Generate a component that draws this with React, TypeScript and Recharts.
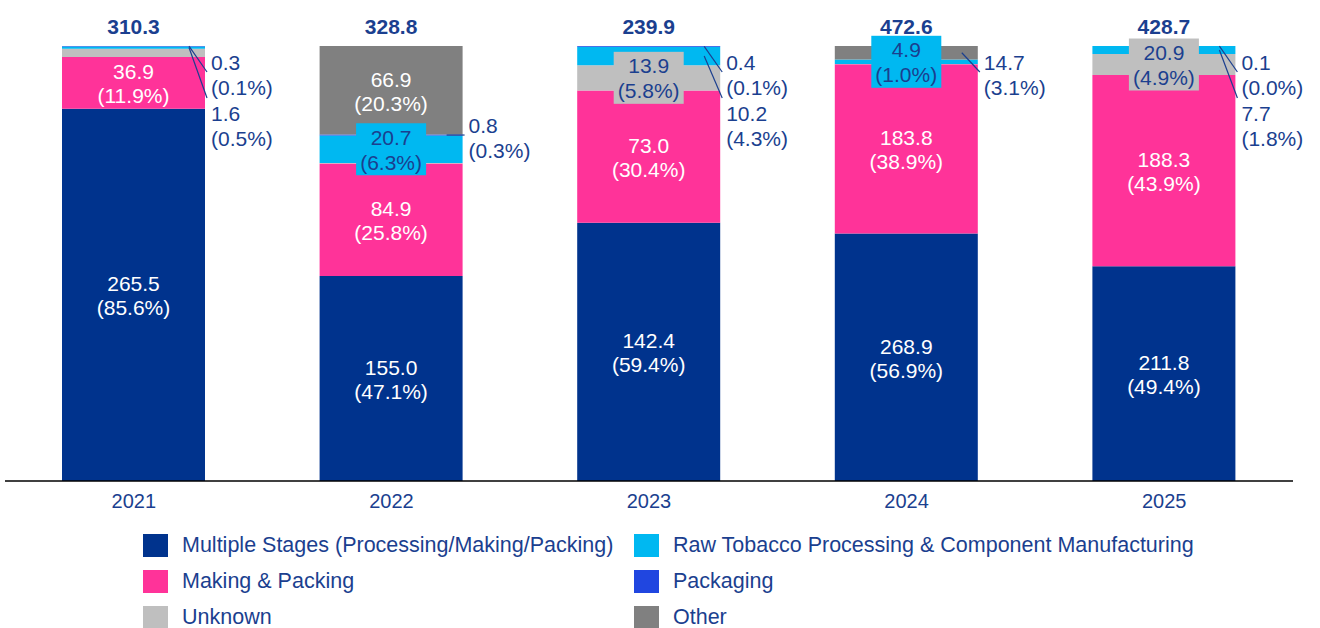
import React from 'react';
import { BarChart, Bar, XAxis, YAxis, Legend, LabelList } from 'recharts';

// categories and totals
const years = ['2021', '2022', '2023', '2024', '2025'];
const totals = [310.3, 328.8, 239.9, 472.6, 428.7];

// series values and their shares (%) as printed
const multipleStages = [265.5, 155.0, 142.4, 268.9, 211.8];
const multipleStagesPct = [85.6, 47.1, 59.4, 56.9, 49.4];
const makingPacking = [36.9, 84.9, 73.0, 183.8, 188.3];
const makingPackingPct = [11.9, 25.8, 30.4, 38.9, 43.9];
const unknown = [6.0, 0.5, 13.9, 0.3, 20.9];
const unknownPct = [1.9, 0.2, 5.8, 0.1, 4.9];
const rawTobacco = [1.6, 20.7, 10.2, 4.9, 7.7];
const rawTobaccoPct = [0.5, 6.3, 4.3, 1.0, 1.8];
const packaging = [0.3, 0.8, 0.4, 0, 0.1];
const packagingPct = [0.1, 0.3, 0.1, 0, 0.0];
const other = [0, 66.9, 0, 14.7, 0];
const otherPct = [0, 20.3, 0, 3.1, 0];

const NAVY = '#1B3F8F';
const FONT = '"Liberation Sans", Arial, sans-serif';
const FS = 21;
const PLOT_TOP = 46;
const BOX_W = 70;
const BOX_H = 52;

type Mode = 'in' | 'box' | 'side' | '-';

// bottom to top stacking order
const SERIES = [
  { key: 'ms', name: 'Multiple Stages (Processing/Making/Packing)', color: '#00338D', values: multipleStages, pct: multipleStagesPct, modes: ['in', 'in', 'in', 'in', 'in'] as Mode[] },
  { key: 'mp', name: 'Making & Packing', color: '#FF3399', values: makingPacking, pct: makingPackingPct, modes: ['in', 'in', 'in', 'in', 'in'] as Mode[] },
  { key: 'unk', name: 'Unknown', color: '#BFBFBF', values: unknown, pct: unknownPct, modes: ['-', '-', 'box', '-', 'box'] as Mode[] },
  { key: 'raw', name: 'Raw Tobacco Processing & Component Manufacturing', color: '#00B8F1', values: rawTobacco, pct: rawTobaccoPct, modes: ['side', 'box', 'side', 'box', 'side'] as Mode[] },
  { key: 'pkg', name: 'Packaging', color: '#2046E0', values: packaging, pct: packagingPct, modes: ['side', 'side', 'side', '-', 'side'] as Mode[] },
  { key: 'oth', name: 'Other', color: '#808080', values: other, pct: otherPct, modes: ['-', 'in', '-', 'side', '-'] as Mode[] },
];

const data = years.map((year, i) => {
  const row: Record<string, string | number> = { year };
  SERIES.forEach((s) => (row[s.key] = s.values[i]));
  return row;
});

// how many side labels sit above this one in the same bar
function sideSlot(seriesIdx: number, i: number) {
  let n = 0;
  for (let k = SERIES.length - 1; k > seriesIdx; k--) if (SERIES[k].modes[i] === 'side') n++;
  return n;
}

function makeLabel(seriesIdx: number) {
  const s = SERIES[seriesIdx];
  return (props: any) => {
    const { x, y, width, height, value } = props;
    const i = years.indexOf(String(value));
    if (i < 0) return null;
    const mode = s.modes[i];
    if (mode === '-' || !s.values[i]) return null;
    const l1 = s.values[i].toFixed(1);
    const l2 = `(${s.pct[i].toFixed(1)}%)`;
    const cx = x + width / 2;
    const mid = y + height / 2;
    if (mode === 'in') {
      return (
        <g>
          <text x={cx} y={mid - 11} textAnchor="middle" dominantBaseline="central" fill="#fff" fontSize={FS} fontFamily={FONT}>{l1}</text>
          <text x={cx} y={mid + 13} textAnchor="middle" dominantBaseline="central" fill="#fff" fontSize={FS} fontFamily={FONT}>{l2}</text>
        </g>
      );
    }
    if (mode === 'box') {
      return (
        <g>
          <rect x={cx - BOX_W / 2} y={mid - BOX_H / 2} width={BOX_W} height={BOX_H} fill={s.color} />
          <text x={cx} y={mid - 12} textAnchor="middle" dominantBaseline="central" fill={NAVY} fontSize={FS} fontFamily={FONT}>{l1}</text>
          <text x={cx} y={mid + 13} textAnchor="middle" dominantBaseline="central" fill={NAVY} fontSize={FS} fontFamily={FONT}>{l2}</text>
        </g>
      );
    }
    const slot = sideSlot(seriesIdx, i);
    const right = x + width;
    const center = Math.max(mid + 2, PLOT_TOP + 28 + 51 * slot);
    const endY = slot === 0 ? center - 2 : center - 27;
    return (
      <g>
        <line x1={right - 16} y1={mid} x2={right + 2} y2={endY} stroke={NAVY} strokeWidth={1.2} />
        <text x={right + 6} y={center - 12} dominantBaseline="central" fill={NAVY} fontSize={FS} fontFamily={FONT}>{l1}</text>
        <text x={right + 6} y={center + 13} dominantBaseline="central" fill={NAVY} fontSize={FS} fontFamily={FONT}>{l2}</text>
      </g>
    );
  };
}

const totalLabel = (props: any) => {
  const { x, width, value } = props;
  const i = years.indexOf(String(value));
  if (i < 0) return null;
  return (
    <text x={x + width / 2} y={PLOT_TOP - 20} textAnchor="middle" dominantBaseline="central" fill={NAVY} fontSize={FS} fontWeight="bold" fontFamily={FONT}>
      {totals[i].toFixed(1)}
    </text>
  );
};

const legendColumns = [
  [SERIES[0], SERIES[1], SERIES[2]],
  [SERIES[3], SERIES[4], SERIES[5]],
];

const LegendBox = () => (
  <div style={{ position: 'relative', width: 1320, height: 100 }}>
    {legendColumns.map((col, c) =>
      col.map((s, r) => (
        <div key={s.key} style={{ position: 'absolute', left: c === 0 ? 143 : 634, top: r * 36, display: 'flex', alignItems: 'center', height: 24 }}>
          <span style={{ display: 'inline-block', width: 25, height: 23, background: s.color }} />
          <span style={{ marginLeft: 14, color: NAVY, fontSize: 21.5, fontFamily: FONT, whiteSpace: 'nowrap' }}>{s.name}</span>
        </div>
      ))
    )}
  </div>
);

export default function App() {
  return (
    <div style={{ position: 'absolute', left: 0, top: 0, width: 1320, height: 628, background: '#fff', fontFamily: FONT }}>
      <BarChart
        width={1320}
        height={628}
        data={data}
        stackOffset="expand"
        barSize={143}
        margin={{ top: PLOT_TOP, right: 27, bottom: 17, left: 5 }}
      >
        <XAxis
          dataKey="year"
          axisLine={{ stroke: '#000', strokeWidth: 1.5 }}
          tickLine={false}
          tickSize={0}
          tickMargin={13}
          tick={{ fill: NAVY, fontSize: 20, fontFamily: FONT }}
        />
        <YAxis hide domain={[0, 1]} />
        {SERIES.map((s, idx) => (
          <Bar key={s.key} dataKey={s.key} name={s.name} stackId="a" fill={s.color} isAnimationActive={false}>
            <LabelList dataKey="year" content={makeLabel(idx)} />
            {idx === 0 && <LabelList dataKey="year" content={totalLabel} />}
          </Bar>
        ))}
        <Legend
          content={<LegendBox />}
          wrapperStyle={{ position: 'absolute', left: 0, top: 533, width: 1320, height: 100 }}
        />
      </BarChart>
    </div>
  );
}
